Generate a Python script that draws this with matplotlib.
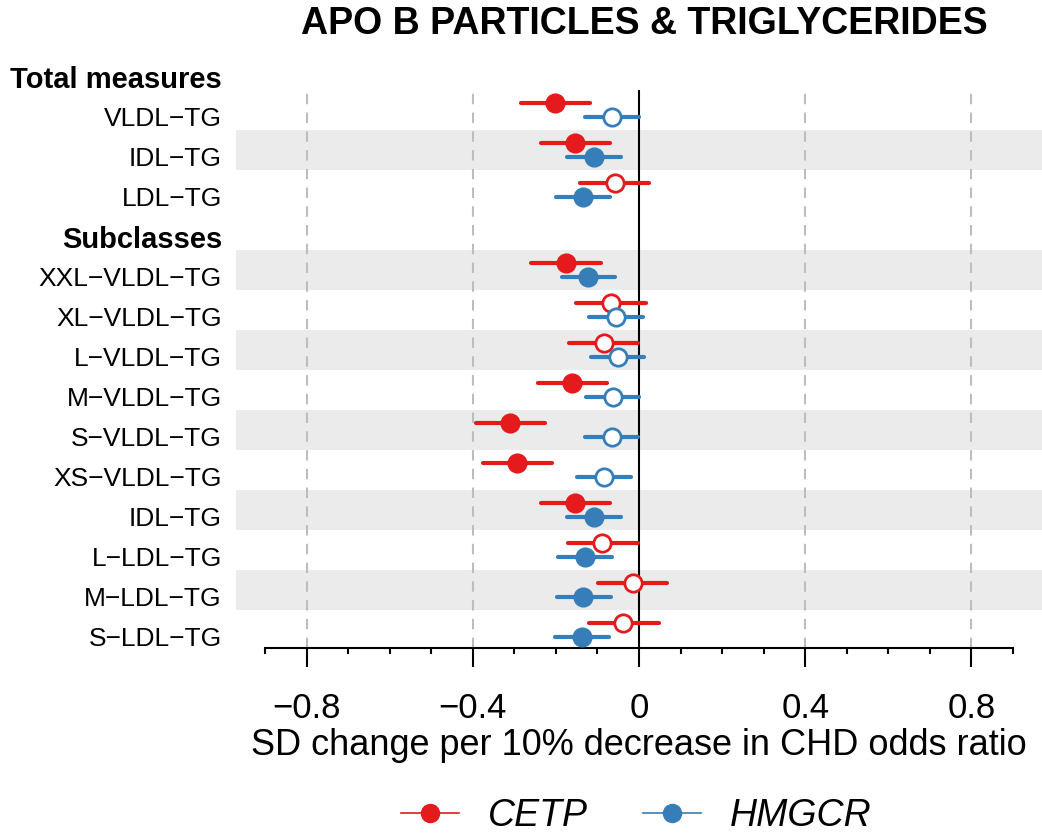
import numpy as np
import matplotlib
matplotlib.use("Agg")
import matplotlib.pyplot as plt
from matplotlib.lines import Line2D
import matplotlib.transforms as mtrans

plt.rcParams['font.family'] = ['Liberation Sans', 'DejaVu Sans']

# rows top to bottom, headers included
rows = ["Total measures", "VLDL\u2212TG", "IDL\u2212TG", "LDL\u2212TG",
        "Subclasses", "XXL\u2212VLDL\u2212TG", "XL\u2212VLDL\u2212TG", "L\u2212VLDL\u2212TG",
        "M\u2212VLDL\u2212TG", "S\u2212VLDL\u2212TG", "XS\u2212VLDL\u2212TG", "IDL\u2212TG",
        "L\u2212LDL\u2212TG", "M\u2212LDL\u2212TG", "S\u2212LDL\u2212TG"]
headers = [0, 4]
shaded = [2, 5, 7, 9, 11, 13]
data_rows = [1, 2, 3, 5, 6, 7, 8, 9, 10, 11, 12, 13, 14]

# CETP estimates, lower and upper CI, filled (significant) flag
cetp_est = [-0.202, -0.154, -0.058, -0.176, -0.068, -0.084, -0.161, -0.311, -0.293, -0.154, -0.088, -0.015, -0.039]
cetp_lo  = [-0.285, -0.237, -0.142, -0.259, -0.152, -0.168, -0.243, -0.393, -0.375, -0.237, -0.170, -0.098, -0.120]
cetp_hi  = [-0.118, -0.070, 0.025, -0.092, 0.016, -0.002, -0.078, -0.227, -0.210, -0.070, -0.003, 0.068, 0.047]
cetp_sig = [1, 1, 0, 1, 0, 0, 1, 1, 1, 1, 0, 0, 0]

# HMGCR
hmg_est = [-0.066, -0.108, -0.134, -0.122, -0.056, -0.051, -0.063, -0.066, -0.084, -0.108, -0.130, -0.134, -0.137]
hmg_lo  = [-0.130, -0.173, -0.200, -0.186, -0.120, -0.116, -0.128, -0.130, -0.148, -0.173, -0.194, -0.198, -0.201]
hmg_hi  = [0.000, -0.043, -0.070, -0.058, 0.009, 0.013, 0.001, -0.002, -0.019, -0.043, -0.064, -0.068, -0.072]
hmg_sig = [0, 1, 1, 1, 0, 0, 0, 0, 0, 1, 1, 1, 1]

red = "#E41A1C"
blue = "#377EB8"

fig = plt.figure(figsize=(10.42, 8.36), dpi=100)
ax = fig.add_axes([265/1042, 1-648/836, 748/1042, 558/836])
ax.set_xlim(-0.9, 0.9)
ax.set_ylim(14.45, 0.5)

# grey bands, running past the axes to the right edge
trans = mtrans.blended_transform_factory(ax.transAxes, ax.transData)
for r in shaded:
    ax.add_patch(plt.Rectangle((-0.0388, r-0.5), 1.078, 1.0, transform=trans,
                               color="#EBEBEB", lw=0, clip_on=False, zorder=0))

for v in [-0.8, -0.4, 0.4, 0.8]:
    ax.axvline(v, color="#BDBDBD", lw=1.5, ls=(0, (5, 4)), zorder=1)
ax.axvline(0, color="black", lw=1.5, zorder=1)

off = 0.167
def draw(est, lo, hi, sig, col, dy):
    for i, r in enumerate(data_rows):
        y = r + dy
        ax.plot([lo[i], hi[i]], [y, y], color=col, lw=3, solid_capstyle='round', zorder=2)
        fc = col if sig[i] else "white"
        ax.plot(est[i], y, 'o', ms=12.5, mfc=fc, mec=col, mew=2, zorder=3)

draw(cetp_est, cetp_lo, cetp_hi, cetp_sig, red, -off)
draw(hmg_est, hmg_lo, hmg_hi, hmg_sig, blue, off)

# row labels
ltrans = mtrans.blended_transform_factory(fig.transFigure, ax.transData)
for r, name in enumerate(rows):
    if r in headers:
        ax.text(222/1042, r+0.25, name, transform=ltrans, ha='right', va='center',
                fontsize=21, fontweight='bold', clip_on=False)
    else:
        ax.text(222/1042, r+0.22, name, transform=ltrans, ha='right', va='center',
                fontsize=19, clip_on=False)

for s in ["top", "right", "left"]:
    ax.spines[s].set_visible(False)
ax.spines["bottom"].set_linewidth(1.5)
ax.set_yticks([])
ax.set_xticks([-0.8, -0.4, 0, 0.4, 0.8])
ax.set_xticklabels(["\u22120.8", "\u22120.4", "0", "0.4", "0.8"], fontsize=25)
ax.set_xticks(np.round(np.arange(-0.9, 0.91, 0.1), 1), minor=True)
ax.tick_params(axis='x', which='major', length=14, width=1.5, pad=17.5)
ax.tick_params(axis='x', which='minor', length=4, width=1.5)
ax.set_xlabel("SD change per 10% decrease in CHD odds ratio", fontsize=26, labelpad=2)

fig.text(644/1042, 1-24/836, "APO B PARTICLES & TRIGLYCERIDES", ha='center', va='center',
         fontsize=27, fontweight='bold')

handles = [Line2D([], [], color=red, lw=1.2, marker='o', ms=13, mfc=red, mec=red),
           Line2D([], [], color=blue, lw=1.2, marker='o', ms=13, mfc=blue, mec=blue)]
leg = fig.legend(handles, ["CETP", "HMGCR"], loc='center', bbox_to_anchor=(636/1042, 1-816/836),
                 ncol=2, frameon=False, handlelength=1.55, handletextpad=0.77, columnspacing=1.47,
                 borderpad=0.2, prop={'size': 27, 'style': 'italic'})

fig.savefig("out.png", dpi=100)
